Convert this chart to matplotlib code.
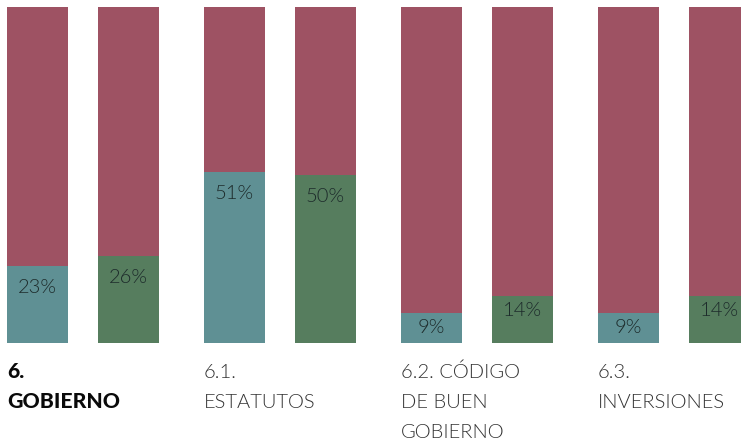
import matplotlib.pyplot as plt

# data
categories = ['6.\nGOBIERNO', '6.1.\nESTATUTOS', '6.2. CÓDIGO\nDE BUEN\nGOBIERNO', '6.3.\nINVERSIONES']
serie_a = [23, 51, 9, 9]
serie_b = [26, 50, 14, 14]
total = 100

maroon = '#9e5263'
teal = '#5f9094'
green = '#567d5e'

plt.rcParams['font.family'] = ['Lato', 'DejaVu Sans']

fig = plt.figure(figsize=(7.41, 4.41), dpi=100)
ax = fig.add_axes([0, 98 / 441, 1, 336 / 441])

group_step = 197 / 91
width = 61 / 91

for g, cat in enumerate(categories):
    for k, (vals, col) in enumerate([(serie_a, teal), (serie_b, green)]):
        x = g * group_step + k
        v = vals[g]
        ax.bar(x, v, width=width, color=col, linewidth=0)
        ax.bar(x, total - v, bottom=v, width=width, color=maroon, linewidth=0)
        # percent label near the top of the coloured part
        off = -22 if v >= 20 else -15
        ax.annotate(f'{v}%', xy=(x, v), xytext=(0, off), textcoords='offset pixels',
                    ha='center', va='center', fontsize=14.5, fontweight=300,
                    color='#1d2b2b')

    # category label, one line at a time
    bold = g == 0
    for i, line in enumerate(cat.split('\n')):
        ax.annotate(line, xy=(g * group_step - width / 2, 0), xycoords='data',
                    xytext=(0, -35 - 30 * i), textcoords='offset pixels',
                    ha='left', va='baseline', fontsize=15.3 if bold else 14.5,
                    fontweight=900 if bold else 300,
                    color='#0a0a0a' if bold else '#333333')

ax.set_xlim(-37.5 / 91, (741 - 37.5) / 91)
ax.set_ylim(0, total)
ax.axis('off')

fig.savefig('out.png', dpi=100)
